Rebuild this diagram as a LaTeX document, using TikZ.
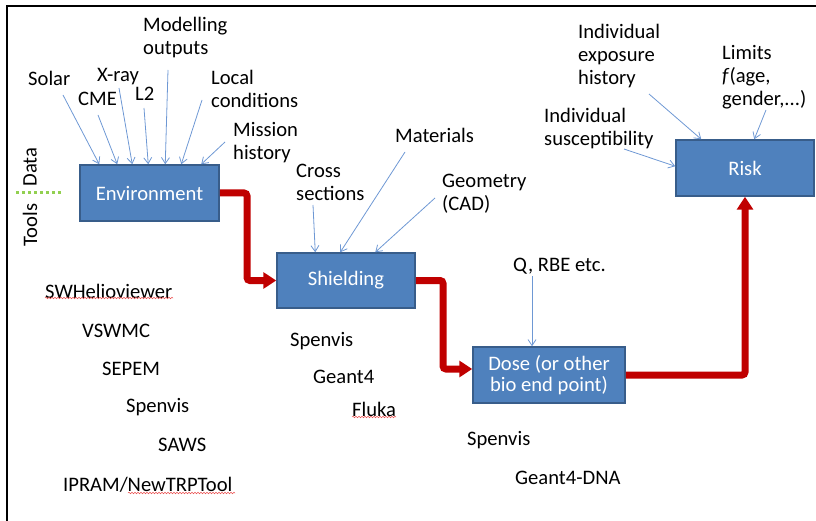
\documentclass[tikz,border=0pt]{standalone}
\usepackage{fontspec}
\setmainfont{Carlito}
\usetikzlibrary{arrows.meta,calc,decorations.pathmorphing}
\definecolor{boxfill}{RGB}{79,129,189}
\definecolor{boxline}{RGB}{56,93,138}
\definecolor{flowred}{RGB}{192,0,0}
\definecolor{inblue}{RGB}{110,152,212}
\definecolor{dotgreen}{RGB}{146,208,80}
\definecolor{spellred}{RGB}{235,80,80}
\newcommand\dgfont{\fontsize{20.6}{23}\selectfont}
\tikzset{
  stagebox/.style={draw=boxline,line width=1.5pt,fill=boxfill,text=white,font=\dgfont,align=center,inner sep=0pt},
  lbl/.style={anchor=west,inner sep=0pt,font=\dgfont,align=left,text=black},
  tool/.style={anchor=west,inner sep=0pt,font=\dgfont,text=black},
  inarrow/.style={draw=inblue,line width=0.8pt,-{Straight Barb[length=6pt,width=8pt]}},
  redflow/.style={draw=flowred,line width=7pt,rounded corners=3pt,-{Triangle[length=13pt,width=16pt]}},
  spell/.style={draw=spellred,line width=0.5pt,decorate,decoration={snake,amplitude=0.8pt,segment length=3pt}}
}
\begin{document}
\begin{tikzpicture}[x=1pt,y=-1pt]
\useasboundingbox (0,0) rectangle (816,521);
% frame
\draw[line width=2pt] (7,521) -- (7,6) -- (816,6);

% stage boxes
\node[stagebox,minimum width=139pt,minimum height=56pt] (env) at (149.5,193) {Environment};
\node[stagebox,minimum width=138pt,minimum height=55pt] (shield) at (346,280.5) {Shielding};
\node[stagebox,minimum width=152pt,minimum height=56pt] (dose) at (549,375) {Dose (or other\\[-2pt]bio end point)};
\node[stagebox,minimum width=138pt,minimum height=56pt] (risk) at (745,168) {Risk};

% red flow
\coordinate (k1) at (247,193);
\coordinate (k2) at (443,369);
\draw[redflow] (env.east) -- (k1) |- (shield.west);
\draw[redflow] (shield.east) -| (k2) -- (k2 -| dose.west);
\draw[redflow] (dose.east) -| (risk.south);

% environment inputs
\node[lbl] (solar) at (28,78) {Solar};
\node[lbl] (cme) at (78,99) {CME};
\node[lbl] (xray) at (97,77) {X-ray};
\node[lbl] (ltwo) at (135,94) {L2};
\node[lbl] (model) at (143,38) {Modelling\\outputs};
\node[lbl] (local) at (211,88.5) {Local\\conditions};
\node[lbl] (mission) at (233,143) {Mission\\history};
\coordinate (sSolar) at (63,95);
\coordinate (sCme) at (98,115);
\coordinate (sXray) at (119,88);
\coordinate (sL2) at (144,108);
\coordinate (sModel) at (168,70);
\coordinate (sLocal) at (202,100);
\coordinate (sMission) at (225,142);
\draw[inarrow] (sSolar) -- ([xshift=20pt]env.north west);
\draw[inarrow] (sCme) -- ([xshift=38pt]env.north west);
\draw[inarrow] (sXray) -- ([xshift=53pt]env.north west);
\draw[inarrow] (sL2) -- ([xshift=69pt]env.north west);
\draw[inarrow] (sModel) -- ([xshift=86pt]env.north west);
\draw[inarrow] (sLocal) -- ([xshift=102pt]env.north west);
\draw[inarrow] (sMission) -- ([xshift=122pt]env.north west);

% shielding inputs
\node[lbl] (cross) at (296,182.5) {Cross\\sections};
\node[lbl] (mat) at (395,135) {Materials};
\node[lbl] (geom) at (442,194) {Geometry\\(CAD)};
\coordinate (sCross) at (313,205);
\coordinate (sMat) at (405,152);
\coordinate (sGeom) at (435,198);
\draw[inarrow] (sCross) -- ([xshift=39pt]shield.north west);
\draw[inarrow] (sMat) -- ([xshift=64pt]shield.north west);
\draw[inarrow] (sGeom) -- ([xshift=99pt]shield.north west);

% dose input
\node[lbl] (qrbe) at (513,266) {Q, RBE etc.};
\coordinate (sQ) at (532,276);
\draw[inarrow] (sQ) -- (sQ |- dose.north);

% risk inputs
\node[lbl] (expo) at (578,56) {Individual\\exposure\\history};
\node[lbl] (limits) at (722,77) {Limits\\\textit{f}(age,\\gender,...)};
\node[lbl] (suscept) at (544,128.5) {Individual\\susceptibility};
\coordinate (sExpo) at (649,94);
\coordinate (sLimits) at (766,110);
\coordinate (sSus) at (624,149);
\draw[inarrow] (sExpo) -- ([xshift=26pt]risk.north west);
\draw[inarrow] (sLimits) -- ([xshift=79pt]risk.north west);
\draw[inarrow] (sSus) -- ([yshift=-27pt]risk.north west);

% Data / Tools
\node[font=\dgfont,rotate=90,inner sep=0pt] (data) at (30,167) {Data};
\node[font=\dgfont,rotate=90,inner sep=0pt] (tools) at (30,225) {Tools};
\draw[dotgreen,line width=3pt,dash pattern=on 3pt off 3pt] (16,193) -- (63,193);

% tool lists
\node[tool] (swh) at (45,291) {SWHelioviewer};
\node[tool] (vswmc) at (82,331) {VSWMC};
\node[tool] (sepem) at (102,369) {SEPEM};
\node[tool] (spen1) at (126,407) {Spenvis};
\node[tool] (saws) at (158,445) {SAWS};
\node[tool] (ipram) at (63,485) {IPRAM/NewTRPTool};
\node[tool] (spen2) at (290,341) {Spenvis};
\node[tool] (geant) at (313,377) {Geant4};
\node[tool] (fluka) at (352,409) {Fluka};
\node[tool] (spen3) at (467,440) {Spenvis};
\node[tool] (gdna) at (515,478) {Geant4-DNA};

% spell-check underlines
\draw[spell] (45,298) -- (173,298);
\draw[spell] (128,493) -- (235,493);
\draw[spell] (352,417) -- (396,417);
\end{tikzpicture}
\end{document}
